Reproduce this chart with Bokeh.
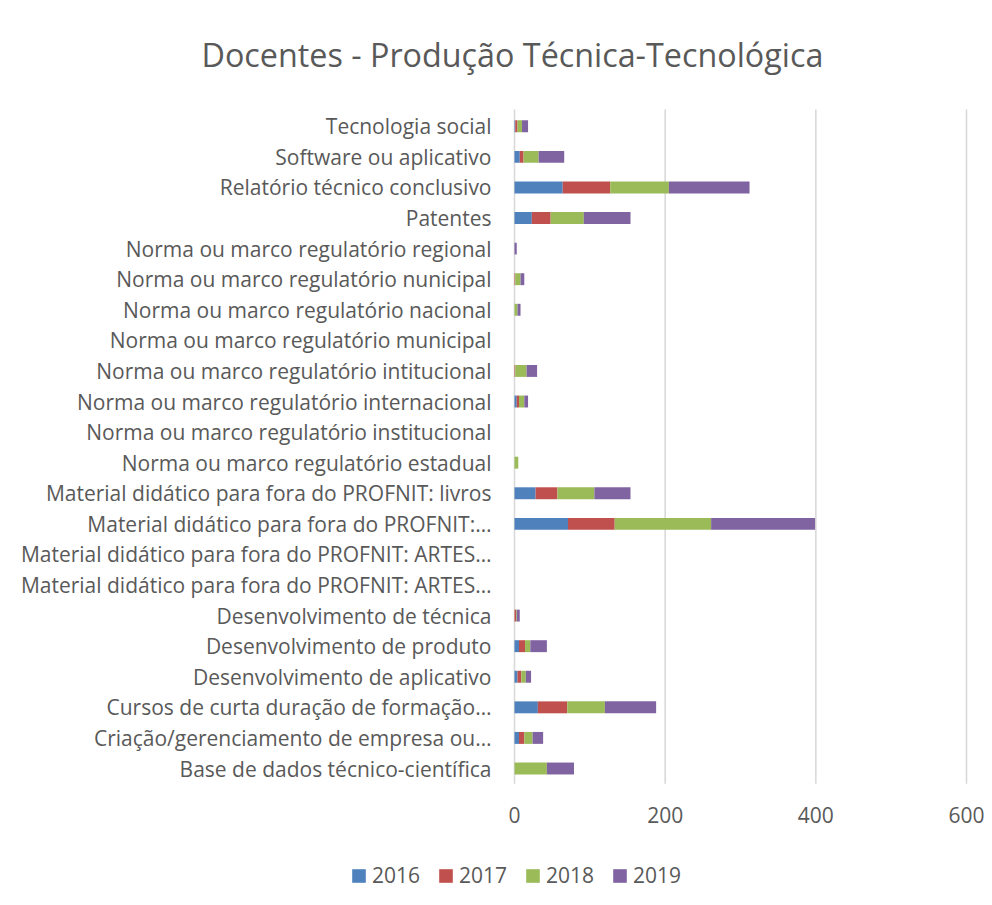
from bokeh.plotting import figure
from bokeh.models import Legend, LegendItem, FixedTicker, Range1d
from bokeh.embed import file_html
from bokeh.resources import INLINE

categories = [
    "Base de dados técnico-científica",
    "Criação/gerenciamento de empresa ou…",
    "Cursos de curta duração de formação…",
    "Desenvolvimento de aplicativo",
    "Desenvolvimento de produto",
    "Desenvolvimento de técnica",
    "Material didático para fora do PROFNIT: ARTES…",
    "Material didático para fora do PROFNIT: ARTES…",
    "Material didático para fora do PROFNIT:…",
    "Material didático para fora do PROFNIT: livros",
    "Norma ou marco regulatório estadual",
    "Norma ou marco regulatório institucional",
    "Norma ou marco regulatório internacional",
    "Norma ou marco regulatório intitucional",
    "Norma ou marco regulatório municipal",
    "Norma ou marco regulatório nacional",
    "Norma ou marco regulatório nunicipal",
    "Norma ou marco regulatório regional",
    "Patentes",
    "Relatório técnico conclusivo",
    "Software ou aplicativo",
    "Tecnologia social",
]
years = ["2016", "2017", "2018", "2019"]
v2016 = [0, 6, 31, 4, 6, 0, 0, 0, 71, 28, 0, 0, 3, 0, 0, 0, 0, 0, 23, 64, 7, 1]
v2017 = [0, 7, 39, 5, 8, 2, 0, 0, 62, 29, 0, 0, 3, 1, 0, 0, 1, 0, 25, 63, 5, 3]
v2018 = [43, 11, 50, 6, 7, 1, 0, 0, 128, 49, 5, 0, 7, 15, 0, 4, 7, 0, 44, 78, 20, 6]
v2019 = [36, 14, 68, 7, 22, 4, 0, 0, 138, 48, 0, 0, 5, 14, 0, 4, 5, 3, 62, 107, 34, 8]
x_ticks = [0, 200, 400, 600]

colors = ["#4F81BD", "#C0504D", "#9BBB59", "#8064A2"]
TXT = "#595959"
FONT = "Open Sans"

n = len(categories)
idx = list(range(n))
data = {"y": idx, "2016": v2016, "2017": v2017, "2018": v2018, "2019": v2019}

# frame covers the canvas below the title; axes are pinned at x=0 and y=-0.5
W, H = 992, 905
FRAME_TOP = 103          # title panel height (text box + standoff)
BAND_TOP = 109.5         # top of the category band
X0_PX, PX_PER_UNIT = 514, 452 / 600
ROW_PX = 30.62
x_start = -X0_PX / PX_PER_UNIT
x_end = (W - X0_PX) / PX_PER_UNIT
y_end = (n - 0.5) + (BAND_TOP - FRAME_TOP) / ROW_PX
y_start = y_end - (H - FRAME_TOP) / ROW_PX

p = figure(width=W, height=H, output_backend="svg", toolbar_location=None,
           x_range=Range1d(x_start, x_end), y_range=Range1d(y_start, y_end),
           min_border_left=0, min_border_right=0, min_border_top=FRAME_TOP, min_border_bottom=0,
           title="Docentes - Produção Técnica-Tecnológica")

# gridlines at the x ticks, spanning the category band
p.segment(x0=x_ticks, x1=x_ticks, y0=[-0.5] * len(x_ticks), y1=[n - 0.45] * len(x_ticks),
          line_color="#D9D9D9", line_width=1.6)

rs = p.hbar_stack(years, y="y", height=0.39, color=colors, source=data, line_color=None)

p.title.text_font = FONT
p.title.text_font_size = "32.3px"
p.title.text_font_style = "normal"
p.title.text_color = TXT
p.title.align = "left"
p.title.offset = 201
p.title.standoff = 58

p.outline_line_color = None
p.xgrid.visible = False
p.ygrid.visible = False

p.xaxis.fixed_location = -0.5
p.xaxis.ticker = FixedTicker(ticks=x_ticks)
p.xaxis.axis_line_color = None
p.xaxis.major_tick_line_color = None
p.xaxis.minor_tick_line_color = None
p.xaxis.major_tick_out = 0
p.xaxis.major_label_text_font = FONT
p.xaxis.major_label_text_font_size = "21px"
p.xaxis.major_label_text_color = TXT
p.xaxis.major_label_standoff = 23

p.yaxis.fixed_location = 0
p.yaxis.ticker = FixedTicker(ticks=idx)
p.yaxis.major_label_overrides = {i: c for i, c in enumerate(categories)}
p.yaxis.axis_line_color = None
p.yaxis.major_tick_line_color = None
p.yaxis.minor_tick_line_color = None
p.yaxis.major_tick_out = 0
p.yaxis.major_label_text_font = FONT
p.yaxis.major_label_text_font_size = "21px"
p.yaxis.major_label_text_color = TXT
p.yaxis.major_label_standoff = 23

legend = Legend(items=[LegendItem(label=y, renderers=[r]) for y, r in zip(years, rs)],
                orientation="horizontal", location=(350, 16),
                border_line_color=None, background_fill_alpha=0,
                glyph_width=17, glyph_height=17, label_standoff=5, spacing=17,
                padding=0, margin=0,
                label_text_font=FONT, label_text_font_size="21px", label_text_color=TXT)
p.add_layout(legend, "center")

open("out.html", "w").write(file_html(p, INLINE))
